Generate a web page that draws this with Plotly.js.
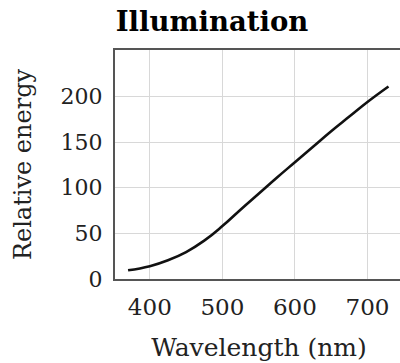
<!DOCTYPE html>
<html>
<head>
<meta charset="utf-8">
<script src="https://cdn.plot.ly/plotly-3.0.1.min.js"></script>
<style>
html,body{margin:0;padding:0;background:#fff;overflow:hidden;}
#chart{width:404px;height:363px;}
</style>
</head>
<body>
<div id="chart"></div>
<script>
// Wavelength (nm) and relative energy
const wavelength = [370, 400, 425, 450, 475, 500, 525, 550, 575, 600, 625, 650, 675, 700, 729];
const energy     = [9.5, 14, 20.5, 29.5, 42, 58, 76, 93.5, 111, 128, 145, 162, 178, 194, 211];
const xTicks = [400, 500, 600, 700];
const yTicks = [0, 50, 100, 150, 200];

const serif = "DejaVu Serif, Liberation Serif, serif";

Plotly.newPlot('chart', [{
  x: wavelength,
  y: energy,
  type: 'scatter',
  mode: 'lines',
  line: {color: '#111', width: 2.6, shape: 'spline', smoothing: 1.3},
  hoverinfo: 'skip'
}], {
  width: 404,
  height: 363,
  margin: {l: 115, r: 1, t: 50, b: 84},
  paper_bgcolor: '#fff',
  plot_bgcolor: '#fff',
  showlegend: false,
  title: {
    text: '<b>Illumination</b>',
    font: {family: serif, size: 27.5, color: '#000'},
    x: 212/404, xref: 'container', xanchor: 'center',
    y: 1 - 21/363, yref: 'container', yanchor: 'middle'
  },
  xaxis: {
    range: [352, 749],
    tickvals: xTicks,
    ticktext: xTicks.map(String),
    showgrid: true, gridcolor: '#d8d8d8', gridwidth: 1,
    zeroline: false,
    showline: true, linecolor: '#555', linewidth: 2, mirror: true,
    ticks: '',
    ticklabelstandoff: 6,
    tickfont: {family: serif, size: 23, color: '#222'},
    title: {text: 'Wavelength (nm)', font: {family: serif, size: 25, color: '#222'}, standoff: 20}
  },
  yaxis: {
    range: [0, 251],
    tickvals: yTicks,
    ticktext: yTicks.map(String),
    showgrid: true, gridcolor: '#d8d8d8', gridwidth: 1,
    zeroline: false,
    showline: true, linecolor: '#555', linewidth: 2, mirror: true,
    ticks: '',
    ticklabelstandoff: 6,
    tickfont: {family: serif, size: 22, color: '#222'},
    title: {text: 'Relative energy', font: {family: serif, size: 24, color: '#222'}, standoff: 22}
  }
}, {staticPlot: true, displayModeBar: false});
</script>
</body>
</html>
